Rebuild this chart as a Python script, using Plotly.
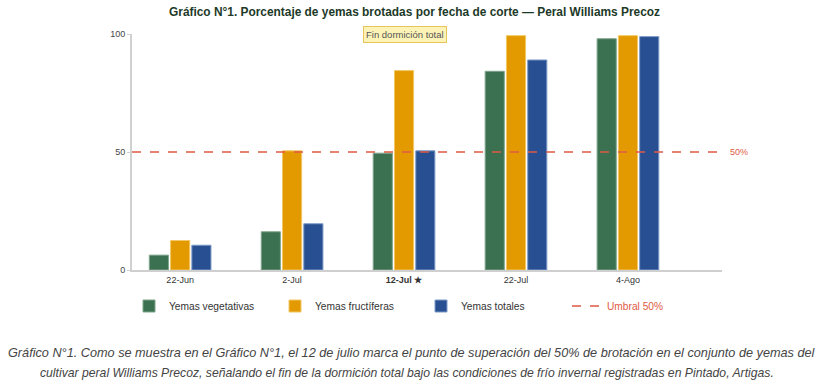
import plotly.graph_objects as go

categories = ["22-Jun", "2-Jul", "12-Jul", "22-Jul", "4-Ago"]
tick_labels = ["22-Jun", "2-Jul", "<b>12-Jul ★</b>", "22-Jul", "4-Ago"]
vegetativas = [6.3, 16.2, 49.5, 84.2, 98.0]
fructiferas = [12.5, 50.5, 84.5, 99.3, 99.3]
totales = [10.5, 19.6, 50.5, 89.0, 98.9]
umbral = 50
x_pos = list(range(len(categories)))

fig = go.Figure()
series = [
    ("Yemas vegetativas", vegetativas, "#3b7150", "#7fa58c"),
    ("Yemas fructíferas", fructiferas, "#e29a00", "#f3c766"),
    ("Yemas totales", totales, "#284f91", "#7f9cc8"),
]
for name, vals, col, edge in series:
    fig.add_trace(go.Bar(x=x_pos, y=vals, name=name,
                         marker=dict(color=col, line=dict(color=edge, width=1))))

fig.add_hline(y=umbral, line=dict(color="#e05a45", width=1.3, dash="dash"),
              showlegend=True, name="<span style='color:#e05a45'>Umbral 50%</span>")

fig.add_annotation(x=1.0, xref="paper", y=umbral, yref="y", text="50%",
                   showarrow=False, xanchor="left", xshift=6,
                   font=dict(size=9, color="#e05a45"))
fig.add_annotation(x=(405 - 132) / 590, xref="paper", y=100, text="Fin dormición total",
                   showarrow=False, font=dict(size=9.5, color="#555"), bgcolor="#fdf3b6",
                   bordercolor="#e6c65c", borderwidth=1, borderpad=2,
                   yanchor="middle", xanchor="center")
fig.add_annotation(x=(414 - 132) / 590, xref="paper", y=1.0, yref="paper", yshift=22,
                   text="<b>Gráfico N°1. Porcentaje de yemas brotadas por fecha de corte — Peral Williams Precoz</b>",
                   showarrow=False, font=dict(size=11.9, color="#1d3a29"), yanchor="middle",
                   xanchor="center")
caption_lines = [
    "Gráfico N°1. Como se muestra en el Gráfico N°1, el 12 de julio marca el punto de superación del 50% de brotación en el conjunto de yemas del",
    "cultivar peral Williams Precoz, señalando el fin de la dormición total bajo las condiciones de frío invernal registradas en Pintado, Artigas.",
]
for line, cx, cy, fs in zip(caption_lines, [411.5, 407], [353, 373], [12.7, 12.2]):
    fig.add_annotation(x=(cx - 132) / 590, xref="paper", y=(270 - cy) / 236, yref="paper",
                       text="<i>" + line + "</i>", showarrow=False,
                       font=dict(size=fs, color="#444"), xanchor="center", yanchor="middle")

fig.update_layout(
    width=822, height=387,
    margin=dict(l=132, r=100, t=34, b=117, autoexpand=False),
    paper_bgcolor="white", plot_bgcolor="white",
    font=dict(family="Arial, Liberation Sans, sans-serif", size=9, color="#333"),
    barmode="group", bargap=0.43, bargroupgap=0.1,
    showlegend=True,
    legend=dict(orientation="h", xref="container", yref="container",
                x=129 / 822, xanchor="left", y=1 - 306 / 387, yanchor="middle",
                entrywidth=101, entrywidthmode="pixels", font=dict(size=10.2, color="#333"),
                bgcolor="rgba(0,0,0,0)", traceorder="normal"),
)
fig.update_xaxes(tickvals=x_pos, ticktext=tick_labels, range=[-0.43, 4.84],
                 showline=True, linecolor="#cfcfcf", linewidth=2, showgrid=False,
                 zeroline=False, ticks="", tickfont=dict(size=9, color="#333"))
fig.update_yaxes(range=[0, 100], tickvals=[0, 50, 100], showline=True, linecolor="#d0d0d0",
                 linewidth=2, showgrid=False, zeroline=False, ticks="outside", ticklen=3,
                 tickcolor="#d0d0d0", tickfont=dict(size=9, color="#444"))

fig.write_html("out.html", config={"displayModeBar": False},
               post_script="document.body.style.margin='0';document.body.style.overflow='hidden';")
